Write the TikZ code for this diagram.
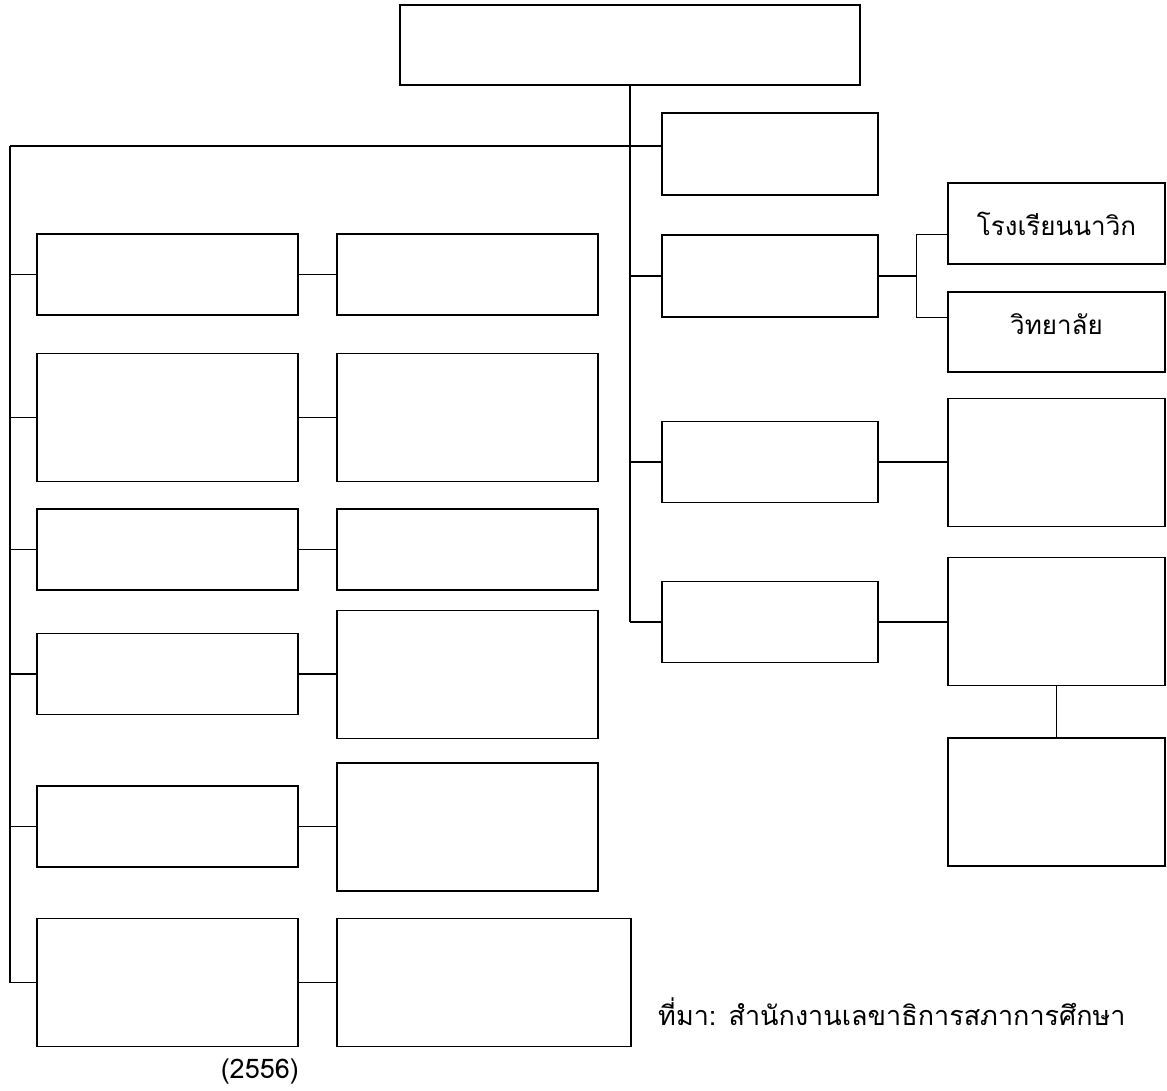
\documentclass[tikz,border=0pt]{standalone}
\usepackage{fontspec}
\usepackage{tikz}
\usetikzlibrary{positioning, calc}
\newfontfamily\thaifont[Script=Thai]{Loma}

\begin{document}
\begin{tikzpicture}[
				x=1pt, y=-1pt,
				box/.style={rectangle, draw, line width=1.2pt, inner sep=0pt,
					minimum width=216pt, minimum height=81pt, align=center,
					font=\thaifont\fontsize{26}{30}\selectfont},
				wide/.style={box, minimum width=261pt},
				tall/.style={minimum height=128pt},
				link/.style={line width=1.2pt},
				note/.style={inner sep=0pt, font=\thaifont\fontsize{27}{31}\selectfont}
				]
				\useasboundingbox (0,0) rectangle (1167,1091);

				\node[box, minimum width=460pt, minimum height=80pt] (head) at (630,45) {};

				\node[box, minimum height=82pt] (r1) at (770,154) {};
				\node[box, minimum height=82pt] (r2) at (770,276) {};
				\node[box, minimum width=217pt] (navy) at (1056.5,223.5) {โรงเรียนนาวิก};
				\node[box, minimum width=217pt, minimum height=80pt] (college) at (1056.5,332) {\raisebox{16pt}{วิทยาลัย}};
				\node[box] (r3) at (770,462) {};
				\node[box, minimum width=217pt, tall] (r3x) at (1056.5,462.5) {};
				\node[box] (r4) at (770,622) {};
				\node[box, minimum width=217pt, tall] (r4x) at (1056.5,621.5) {};
				\node[box, minimum width=217pt, tall] (r5x) at (1056.5,802) {};

				\node[wide] (a1) at (167.5,274.5) {};
				\node[wide] (b1) at (467.5,274.5) {};
				\node[wide, tall] (a2) at (167.5,417.5) {};
				\node[wide, tall] (b2) at (467.5,417.5) {};
				\node[wide] (a3) at (167.5,549.5) {};
				\node[wide] (b3) at (467.5,549.5) {};
				\node[wide] (a4) at (167.5,674) {};
				\node[wide, tall] (b4) at (467.5,674.5) {};
				\node[wide] (a5) at (167.5,826.5) {};
				\node[wide, tall] (b5) at (467.5,827) {};
				\node[wide, tall] (a6) at (167.5,982.5) {};
				\node[box, minimum width=294pt, tall] (b6) at (484,982.5) {};

				\coordinate (spine) at (10,146);
				\coordinate (brk) at ($(r2.east)+(38,0)$);

				\node[note, anchor=east] (year) at (299,1072) {(2556)};
				\node[note, anchor=west] (src) at (658,1012) {ที่มา: สำนักงานเลขาธิการสภาการศึกษา};

				\draw[link] (head.south) -- (head.south |- r4.west);
				\draw[link] (spine) -- (spine -| r1.west);
				\draw[link] (spine) -- (spine |- a6.west);
				\draw[link] (head.south |- r2.west) -- (r2.west);
				\draw[link] (head.south |- r3.west) -- (r3.west);
				\draw[link] (head.south |- r4.west) -- (r4.west);

				\draw[link] (r2.east) -- (brk);
				\draw[link] (brk |- r2.north) -- (brk |- r2.south);
				\draw[link] (brk |- r2.north) -- (navy.west |- r2.north);
				\draw[link] (brk |- r2.south) -- (college.west |- r2.south);
				\draw[link] (r3.east) -- (r3.east -| r3x.west);
				\draw[link] (r4.east) -- (r4.east -| r4x.west);
				\draw[link] (r4x.south) -- (r5x.north);

				\foreach \row in {1,...,6} {
					\draw[link] (spine |- a\row.west) -- (a\row.west);
					\draw[link] (a\row.east) -- (a\row.east -| b\row.west);
				}
			\end{tikzpicture}
\end{document}
